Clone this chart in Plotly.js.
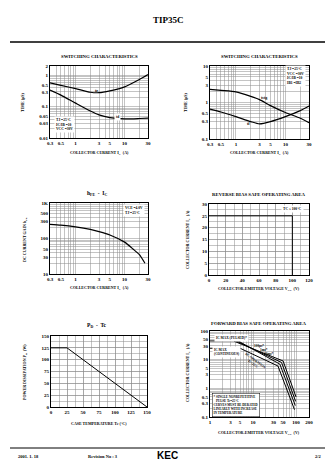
<!DOCTYPE html>
<html><head><meta charset="utf-8">
<script src="https://cdn.plot.ly/plotly-3.0.1.min.js"></script>
<style>html,body{margin:0;padding:0;background:#fff;}#c{width:336px;height:475px;}</style>
</head><body><div id="c"></div>
<script>
// ---------- DATA ----------
// Chart 1: switching (turn-on)
const sw1Ic = [0.3, 0.5, 1, 2, 3, 5, 10, 20, 30];
const sw1Tr = [0.58, 0.48, 0.38, 0.29, 0.28, 0.32, 0.43, 0.74, 1.06];
const sw1Td = [0.34, 0.235, 0.13, 0.073, 0.055, 0.045, 0.041, 0.042, 0.043];
// Chart 2: switching (turn-off)
const sw2Ic = [0.3, 0.5, 1, 2, 3, 5, 10, 20, 30];
const sw2Tstg = [2.3, 2.15, 1.96, 1.47, 1.2, 0.82, 0.53, 0.37, 0.28];
const sw2Tf = [0.66, 0.55, 0.41, 0.3, 0.26, 0.3, 0.41, 0.6, 0.8];
// Chart 3: hFE - Ic
const hfeIc = [0.3, 0.5, 1, 2, 3, 5, 10, 15, 20, 26];
const hfeVal = [250, 238, 213, 180, 156, 126, 79, 50, 35, 20];
// Chart 4: reverse bias SOA
const rbVce = [0, 100, 100];
const rbIc = [25, 25, 0];
// Chart 5: Pd - Tc
const pdTc = [0, 25, 150];
const pdVal = [125, 125, 0];
// Chart 6: forward bias SOA
const fbPulsedV = [1, 3.5];
const fbPulsedI = [45, 45];
const fb100usV = [3.5, 50, 100];
const fb100usI = [45, 9, 0.5];
const fb1msV = [4, 46, 98];
const fb1msI = [45, 8, 0.35];
const fb10msV = [4.5, 42, 96];
const fb10msI = [45, 7, 0.25];
const fbDcV = [1, 5, 38, 92];
const fbDcI = [25, 25, 6, 0.18];

// tick labels
const curTickVals = [0.3, 0.5, 1, 3, 5, 10, 30];
const curTickText = ['0.3', '0.5', '1', '3', '5', '10', '30'];
const time1TickVals = [2, 1, 0.5, 0.3, 0.1, 0.05, 0.03, 0.01];
const time1TickText = ['2', '1', '0.5', '0.3', '0.1', '0.05', '0.03', '0.01'];
const time2TickVals = [10, 5, 3, 1, 0.5, 0.3, 0.1];
const time2TickText = ['10', '5', '3', '1', '0.5', '0.3', '0.1'];
const hfeTickVals = [1000, 500, 300, 100, 50, 30, 10];
const hfeTickText = ['1K', '500', '300', '100', '50', '30', '10'];
const fbVTickVals = [1, 3, 5, 10, 30, 50, 100, 200];
const fbVTickText = ['1', '3', '5', '10', '30', '50', '100', '200'];
const fbITickVals = [100, 50, 30, 10, 5, 3, 1, 0.5, 0.3, 0.1];
const fbITickText = ['100', '50', '30', '10', '5', '3', '1', '0.5', '0.3', '0.1'];
const rbVTickVals = [0, 20, 40, 60, 80, 100, 120];
const rbITickVals = [0, 5, 10, 15, 20, 25, 30];
const pdTTickVals = [0, 25, 50, 75, 100, 125, 150];
const pdPTickVals = [0, 25, 50, 75, 100, 125, 150];

// ---------- HELPERS ----------
const W = 336, H = 475;
const PX = x => x / W, PY = y => 1 - y / H;
const SERIF = 'Liberation Serif';
const GRID = '#8a8a8a';
const TICKFONT = {family: SERIF, size: 5, color: '#000', weight: 'bold'};

function logGrid(lo, hi) {
  const out = [];
  for (let e = Math.floor(Math.log10(lo)) - 1; e <= Math.ceil(Math.log10(hi)); e++) {
    for (let m = 1; m <= 9; m++) {
      const v = parseFloat((m * Math.pow(10, e)).toPrecision(6));
      if (v >= lo * 0.999 && v <= hi * 1.001) out.push(v);
    }
  }
  return out;
}
function baseAxis(box, anchor) {
  return {
    domain: box, ticks: '', showgrid: true, gridcolor: GRID, gridwidth: 0.5, zeroline: false,
    showline: true, mirror: true, linecolor: '#000', linewidth: 1,
    tickfont: TICKFONT, anchor: anchor, fixedrange: true, automargin: false
  };
}
function logAxis(lo, hi, lv, lt, box, anchor) {
  const g = logGrid(lo, hi).filter(v => !lv.some(l => Math.abs(v - l) / l < 1e-6));
  return Object.assign(baseAxis(box, anchor), {
    type: 'log', range: [Math.log10(lo), Math.log10(hi)],
    tickmode: 'array', tickvals: lv, ticktext: lt,
    minor: {tickmode: 'array', tickvals: g, ticks: '', showgrid: true, gridcolor: GRID, gridwidth: 0.5}
  });
}
function linAxis(lo, hi, lv, minorStep, box, anchor) {
  return Object.assign(baseAxis(box, anchor), {
    type: 'linear', range: [lo, hi],
    tickmode: 'array', tickvals: lv, ticktext: lv.map(String),
    minor: {tickmode: 'linear', tick0: 0, dtick: minorStep, ticks: '', showgrid: true, gridcolor: GRID, gridwidth: 0.5}
  });
}
function bx(l, r) { return [PX(l), PX(r)]; }
function by(t, b) { return [PY(b), PY(t)]; }

// plot boxes (pixels)
const B1 = {l: 50, r: 148, t: 66, b: 138};
const B2 = {l: 210, r: 309, t: 66, b: 139};
const B3 = {l: 50, r: 148, t: 203, b: 274};
const B4 = {l: 209, r: 309, t: 204, b: 275};
const B5 = {l: 51, r: 147, t: 336, b: 407};
const B6 = {l: 210, r: 309, t: 331, b: 417};

const smooth = {color: '#000', width: 1.2, shape: 'spline', smoothing: 0.6};
const straight = {color: '#000', width: 1};
const tr = (x, y, xa, ya, ln) => ({x: x, y: y, xaxis: xa, yaxis: ya, type: 'scatter', mode: 'lines', line: ln, hoverinfo: 'skip', showlegend: false});

const data = [
  tr(sw1Ic, sw1Tr, 'x', 'y', smooth), tr(sw1Ic, sw1Td, 'x', 'y', smooth),
  tr(sw2Ic, sw2Tstg, 'x2', 'y2', smooth), tr(sw2Ic, sw2Tf, 'x2', 'y2', smooth),
  tr(hfeIc, hfeVal, 'x3', 'y3', smooth),
  tr(rbVce, rbIc, 'x4', 'y4', straight),
  tr(pdTc, pdVal, 'x5', 'y5', straight),
  tr(fbPulsedV, fbPulsedI, 'x6', 'y6', straight),
  tr(fb100usV, fb100usI, 'x6', 'y6', straight), tr(fb1msV, fb1msI, 'x6', 'y6', straight),
  tr(fb10msV, fb10msI, 'x6', 'y6', straight), tr(fbDcV, fbDcI, 'x6', 'y6', straight)
];

const layout = {
  width: W, height: H, margin: {l: 0, r: 0, t: 0, b: 0},
  paper_bgcolor: '#fff', plot_bgcolor: '#fff', showlegend: false,
  xaxis: logAxis(0.3, 30, curTickVals, curTickText, bx(B1.l, B1.r), 'y'),
  yaxis: logAxis(0.01, 2, time1TickVals, time1TickText, by(B1.t, B1.b), 'x'),
  xaxis2: logAxis(0.3, 30, curTickVals, curTickText, bx(B2.l, B2.r), 'y2'),
  yaxis2: logAxis(0.1, 10, time2TickVals, time2TickText, by(B2.t, B2.b), 'x2'),
  xaxis3: logAxis(0.3, 30, curTickVals, curTickText, bx(B3.l, B3.r), 'y3'),
  yaxis3: logAxis(10, 1000, hfeTickVals, hfeTickText, by(B3.t, B3.b), 'x3'),
  xaxis4: linAxis(0, 120, rbVTickVals, 10, bx(B4.l, B4.r), 'y4'),
  yaxis4: linAxis(0, 30, rbITickVals, 2.5, by(B4.t, B4.b), 'x4'),
  xaxis5: linAxis(0, 150, pdTTickVals, 12.5, bx(B5.l, B5.r), 'y5'),
  yaxis5: linAxis(0, 150, pdPTickVals, 12.5, by(B5.t, B5.b), 'x5'),
  xaxis6: logAxis(1, 200, fbVTickVals, fbVTickText, bx(B6.l, B6.r), 'y6'),
  yaxis6: logAxis(0.1, 100, fbITickVals, fbITickText, by(B6.t, B6.b), 'x6'),
  shapes: [
    {type: 'line', xref: 'paper', yref: 'paper', x0: PX(10), x1: PX(325), y0: PY(42), y1: PY(42), line: {color: '#000', width: 1.6}},
    {type: 'line', xref: 'paper', yref: 'paper', x0: PX(10), x1: PX(325), y0: PY(448), y1: PY(448), line: {color: '#000', width: 1}}
  ],
  annotations: []
};

const A = layout.annotations;
function txt(x, y, text, size, opts) {
  A.push(Object.assign({xref: 'paper', yref: 'paper', x: PX(x), y: PY(y), text: text, showarrow: false,
    xanchor: 'center', yanchor: 'middle', font: {family: SERIF, size: size, color: '#000', weight: 'bold'}}, opts || {}));
}
function dtxt(xa, ya, x, y, text, size, opts) {
  A.push(Object.assign({xref: xa, yref: ya, x: x, y: y, text: text, showarrow: false,
    xanchor: 'center', yanchor: 'middle', font: {family: SERIF, size: size, color: '#000', weight: 'bold'}}, opts || {}));
}
// page header / footer
txt(168, 20, 'TIP35C', 9);
txt(28, 456, '2001. 1. 18', 4.5);
txt(103, 456, 'Revision No : 3', 4.5);
txt(167, 455, 'KEC', 10, {font: {family: 'Liberation Sans', size: 10, color: '#000', weight: 'bold'}});
txt(318, 456, '2/2', 4.5);

// chart titles
txt(99, 56, 'SWITCHING CHARACTERISTICS', 4.8);
txt(259, 56, 'SWITCHING CHARACTERISTICS', 4.8);
txt(97, 193, 'h<sub>FE</sub>  -  I<sub>C</sub>', 5.5);
txt(258, 194, 'REVERSE BIAS SAFE OPERATING AREA', 4.8);
txt(97, 325, 'P<sub>D</sub>  -  Tc', 5.5);
txt(258, 323, 'FORWARD BIAS SAFE OPERATING AREA', 4.8);

// axis titles
txt(99, 153, 'COLLECTOR CURRENT I<sub>C</sub>  (A)', 4);
txt(22, 103, 'TIME (μS)', 4, {textangle: -90});
txt(259, 153, 'COLLECTOR CURRENT I<sub>C</sub>  (A)', 4);
txt(185, 103, 'TIME (μS)', 4, {textangle: -90});
txt(99, 288, 'COLLECTOR CURRENT I<sub>C</sub>  (A)', 4);
txt(25, 240, 'DC CURRENT GAIN h<sub>FE</sub>', 4, {textangle: -90});
txt(259, 289, 'COLLECTOR-EMITTER VOLTAGE V<sub>CE</sub>  (V)', 4);
txt(188, 240, 'COLLECTOR CURRENT I<sub>C</sub>  (A)', 4, {textangle: -90});
txt(99, 423, 'CASE TEMPERATURE Tc (°C)', 4);
txt(25, 372, 'POWER DISSIPATION P<sub>D</sub>  (W)', 4, {textangle: -90});
txt(259, 433, 'COLLECTOR-EMITTER VOLTAGE V<sub>CE</sub>  (V)', 4);
txt(188, 373, 'COLLECTOR CURRENT I<sub>C</sub>  (A)', 4, {textangle: -90});

// chart 1 notes
txt(54, 125, 'TJ =25°C<br>IC/IB =10<br>VCC =30V', 3.6, {xanchor: 'left', align: 'left', bgcolor: '#fff'});
dtxt('x', 'y', Math.log10(2.7), Math.log10(0.34), 'tr', 4);
dtxt('x', 'y', Math.log10(7), Math.log10(0.047), 'td', 3.6, {bgcolor: '#fff'});
// chart 2 notes
txt(306, 76, 'TJ =25°C<br>VCC =30V<br>IC/IB =10<br>IB1 =IB2', 3.6, {xanchor: 'right', align: 'left', bgcolor: '#fff'});
dtxt('x2', 'y2', Math.log10(3.7), Math.log10(1.35), 'tstg', 4);
dtxt('x2', 'y2', Math.log10(1.76), Math.log10(0.26), 'tf', 4);
// chart 3 notes
txt(145, 210, 'VCE =4.0V<br>TJ =25°C', 3.6, {xanchor: 'right', align: 'left', bgcolor: '#fff'});
// chart 4 notes
txt(304, 209, 'TC ≤ 100°C', 3.6, {xanchor: 'right', bgcolor: '#fff'});
// chart 6 notes
txt(214, 338, 'IC MAX (PULSED)*', 3.4, {xanchor: 'left', bgcolor: '#fff'});
txt(212, 352, 'IC MAX<br>(CONTINUOUS)', 3.4, {xanchor: 'left', align: 'left', bgcolor: '#fff'});
txt(259, 346, '100μs*', 3.4);
txt(264, 350, '1ms*', 3.4);
txt(269, 354, '10ms*', 3.4);
txt(254, 362, 'DC OPERATION<br>Tc=25°C', 3.2, {textangle: 36});
txt(212, 405, '* SINGLE NONREPETITIVE<br>   PULSE Tc=25°C<br>CURVES MUST BE DERATED<br>LINEARLY WITH INCREASE<br>IN TEMPERATURE', 3.2,
    {xanchor: 'left', align: 'left', bgcolor: '#fff', bordercolor: '#000', borderwidth: 0.5, borderpad: 1});

Plotly.newPlot('c', data, layout, {staticPlot: true, displayModeBar: false});
</script>
</body></html>
